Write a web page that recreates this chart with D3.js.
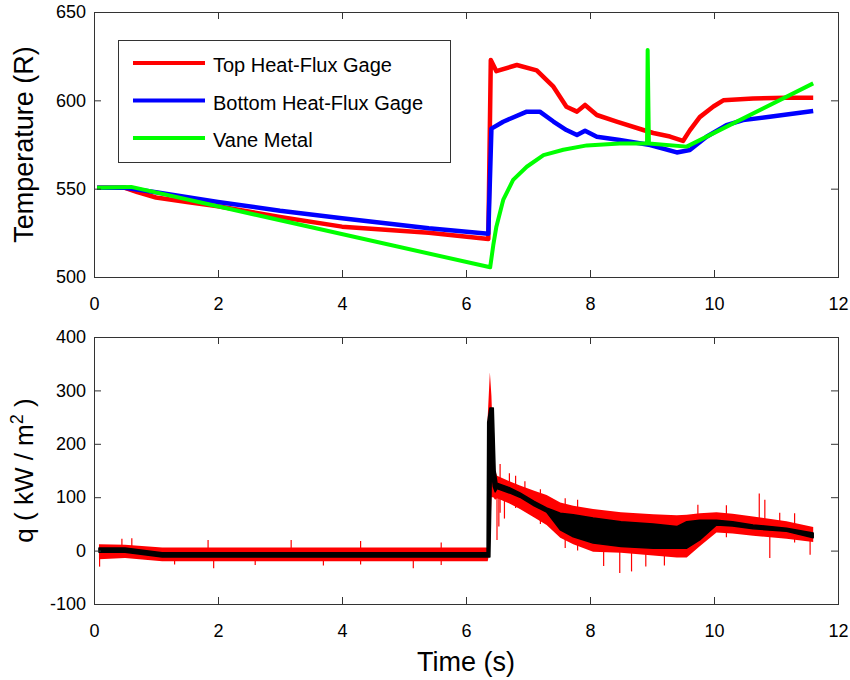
<!DOCTYPE html>
<html>
    <head>
        <meta charset="utf-8">
        <title>Heat flux run</title>
        <script src="https://d3js.org/d3.v7.min.js"></script>
        <style>
            body {
                margin:0;
                background:white;
            }
            svg {
                font-family:'Liberation Sans', Arial, Helvetica, sans-serif;
            }
        </style>
    </head>
    <body>
        <svg width="850" height="680"></svg>
    </body>
    <script>

        // ---- data ----
        let xTicks = [0, 2, 4, 6, 8, 10, 12];
        let tempTicks = [500, 550, 600, 650];
        let fluxTicks = [-100, 0, 100, 200, 300, 400];

        let seriesNames = ['Top Heat-Flux Gage', 'Bottom Heat-Flux Gage', 'Vane Metal'];
        let seriesColors = ['#ff0000', '#0000ff', '#00ff00'];

        // top gage temperature (R)
        let topTime = [0.05, 0.5, 0.7, 1.0, 1.5, 2.0, 3.0, 4.0, 5.4, 6.36, 6.4, 6.49, 6.82, 7.14, 7.41, 7.62, 7.79, 7.92, 8.11, 8.43, 8.86, 9.02, 9.29, 9.5, 9.61, 9.77, 9.99, 10.15, 10.63, 11.17, 11.6];
        let topTemp = [550.5, 550.5, 548, 545, 542.5, 540, 534, 528.5, 525, 521.5, 622.8, 616.5, 620, 617, 607.7, 596.4, 593.6, 597.4, 591.7, 588, 583.2, 581.5, 579.5, 577, 583, 590.5, 596.5, 600, 601, 601.5, 601.5];

        // bottom gage temperature (R)
        let bottomTime = [0.05, 0.5, 1.0, 2.0, 3.0, 4.0, 5.4, 6.36, 6.41, 6.6, 6.98, 7.19, 7.41, 7.62, 7.79, 7.92, 8.11, 8.48, 8.97, 9.4, 9.61, 9.88, 10.2, 10.47, 10.9, 11.6];
        let bottomTemp = [550.5, 550.5, 548, 542.5, 537.5, 533.3, 527.6, 524.5, 584, 587.9, 593.6, 593.6, 588, 583.2, 580.4, 582.8, 579.4, 577.5, 574.7, 570.5, 571.9, 579.4, 586, 588.8, 590.7, 594];

        // vane metal temperature (R)
        let vaneTime = [0.05, 0.6, 6.39, 6.44, 6.49, 6.6, 6.76, 6.98, 7.25, 7.57, 7.95, 8.48, 8.92, 8.93, 8.95, 9.56, 11.6];
        let vaneTemp = [550.5, 551, 505.5, 518, 528.5, 543.6, 555, 562.4, 569, 572, 574.5, 575.5, 575.5, 628.5, 575.5, 573.8, 609.6];

        // heat flux q (kW/m^2): raw signal envelope (red) and averaged band (black)
        let fluxTime  = [0.08, 0.5, 1.1, 2, 3, 4, 5, 6.0, 6.34, 6.35, 6.385, 6.41, 6.44, 6.47, 6.5, 6.7, 6.87, 7.1, 7.3, 7.52, 7.73, 8.05, 8.5, 9.02, 9.4, 9.56, 9.77, 10.04, 10.3, 10.63, 11.17, 11.6];
        let fluxRawHi = [12, 11, 6, 6, 6, 6, 6, 6, 6, 250, 334, 290, 190, 150, 140, 130, 122, 112, 104, 90, 84, 78, 72, 68, 66, 67, 70, 72, 69, 64, 55, 44];
        let fluxRawLo = [-16, -14, -20, -20, -20, -20, -20, -20, -20, -20, 0, 100, 100, 95, 98, 88, 78, 62, 48, 24, 12, -2, -4, -9, -13, -13, 8, 34, 32, 28, 22, 16];
        let fluxAvgHi = [5, 5, -4, -4, -4, -4, -4, -4, -4, 240, 267, 267, 267, 150, 126, 118, 108, 92, 80, 70, 67, 61, 54, 50, 45, 54, 57, 57, 54, 48, 42, 33];
        let fluxAvgLo = [-3, -3, -12, -12, -12, -12, -12, -12, -12, -12, -12, 150, 120, 110, 116, 108, 100, 84, 72, 39, 26, 14, 7.5, 4.5, 4.5, 4.5, 20, 48, 46, 41, 36, 24];

        // single noise spikes of the raw signal
        let spikeTime = [0.09, 0.45, 0.61, 1.3, 1.84, 1.93, 2.6, 3.18, 3.7, 4.3, 5.15, 5.6, 6.5, 6.53, 6.55, 6.62, 6.7, 6.8, 6.95, 7.2, 7.6, 7.8, 8.22, 8.48, 8.67, 8.9, 9.2, 9.74, 10.2, 10.73, 10.82, 10.9, 11.06, 11.3, 11.55];
        let spikeLo   = [-30, 0, 0, -26, 0, -33, -27, 0, -28, -26, -33, -27, 20, 45, 71, 60, 100, 80, 100, 50, 5, 0, -29, -42, -39, -30, -28, 40, 25, 40, 40, -14, 40, 15, -8];
        let spikeHi   = [0, 22, 23, 0, 20, 0, 0, 20, 0, 18, 0, 15, 100, 100, 162, 125, 145, 140, 130, 115, 98, 95, 20, 20, 20, 10, 10, 86, 85, 107, 95, 30, 71, 70, 30];

        // ---- layout ----
        let svg = d3.select('svg');
        let plotLeft = 94, plotRight = 838;
        let topBox = { top: 12, bottom: 277 };
        let lowBox = { top: 337, bottom: 604 };
        let axisColor = '#333';

        let xScaleTop = d3.scaleLinear().domain([0, 12]).range([plotLeft, plotRight]);
        let xScaleLow = d3.scaleLinear().domain([0, 12]).range([plotLeft, plotRight]);
        let yTemp = d3.scaleLinear().domain([500, 650]).range([topBox.bottom, topBox.top]);
        let yFlux = d3.scaleLinear().domain([-100, 400]).range([lowBox.bottom, lowBox.top]);

        // box with inward ticks on all four sides (matlab look)
        function drawFrame(xScale, yScale, yTicks, box) {
            let g = svg.append('g');
            g.append('g')
                .attr('transform', `translate(0,${box.bottom})`)
                .call(d3.axisBottom(xScale).tickValues(xTicks).tickSizeInner(-7).tickSizeOuter(0).tickPadding(20).tickFormat(d => String(d)));
            g.append('g')
                .attr('transform', `translate(0,${box.top})`)
                .call(d3.axisTop(xScale).tickValues(xTicks).tickSizeInner(-7).tickSizeOuter(0).tickFormat(''));
            g.append('g')
                .attr('transform', `translate(${plotLeft},0)`)
                .call(d3.axisLeft(yScale).tickValues(yTicks).tickSizeInner(-7).tickSizeOuter(0).tickPadding(8).tickFormat(d => String(d)));
            g.append('g')
                .attr('transform', `translate(${plotRight},0)`)
                .call(d3.axisRight(yScale).tickValues(yTicks).tickSizeInner(-7).tickSizeOuter(0).tickFormat(''));
            g.selectAll('.domain').remove();
            g.selectAll('line').attr('stroke', axisColor);
            g.selectAll('text')
                .attr('fill', 'black')
                .style('font-size', '18px');
            g.append('rect')
                .attr('x', plotLeft + 0.5)
                .attr('y', box.top + 0.5)
                .attr('width', plotRight - plotLeft)
                .attr('height', box.bottom - box.top)
                .attr('fill', 'none')
                .attr('stroke', axisColor);
            return g;
        }

        // ---- top panel: temperatures ----
        let topG = svg.append('g');
        let tempLine = d3.line()
                        .x(d => xScaleTop(d[0]))
                        .y(d => yTemp(d[1]));

        let tempSeries = [
            d3.zip(topTime, topTemp),
            d3.zip(bottomTime, bottomTemp),
            d3.zip(vaneTime, vaneTemp)
        ];

        topG.selectAll('path')
            .data(tempSeries)
            .join('path')
            .attr('d', tempLine)
            .attr('fill', 'none')
            .attr('stroke', (d,i) => seriesColors[i])
            .attr('stroke-width', (d,i) => i == 2 ? 4 : 4.5)
            .attr('stroke-linejoin', 'round');

        drawFrame(xScaleTop, yTemp, tempTicks, topBox);

        // legend
        let legend = svg.append('g');
        legend.append('rect')
            .attr('x', 118.5).attr('y', 40.5)
            .attr('width', 332).attr('height', 122)
            .attr('fill', 'white')
            .attr('stroke', axisColor);
        legend.selectAll('.key-line')
            .data(seriesNames)
            .join('line')
            .classed('key-line', true)
            .attr('x1', 133).attr('x2', 205)
            .attr('y1', (d,i) => 63 + i*37.5)
            .attr('y2', (d,i) => 63 + i*37.5)
            .attr('stroke', (d,i) => seriesColors[i])
            .attr('stroke-width', 4);
        legend.selectAll('.key-label')
            .data(seriesNames)
            .join('text')
            .classed('key-label', true)
            .attr('x', 213)
            .attr('y', (d,i) => 72 + i*37.5)
            .style('font-size', '20px')
            .text(d => d);

        svg.append('text')
            .attr('transform', `translate(33,${(topBox.top + topBox.bottom)/2}) rotate(-90)`)
            .attr('text-anchor', 'middle')
            .style('font-size', '27px')
            .text('Temperature (R)');

        // ---- bottom panel: heat flux ----
        let lowG = svg.append('g');
        let fluxRows = fluxTime.map((t,i) => ({
            t: t, rawLo: fluxRawLo[i], rawHi: fluxRawHi[i], avgLo: fluxAvgLo[i], avgHi: fluxAvgHi[i]
        }));

        lowG.append('path')
            .datum(fluxRows)
            .attr('d', d3.area()
                        .x(d => xScaleLow(d.t))
                        .y0(d => yFlux(d.rawLo))
                        .y1(d => yFlux(d.rawHi)))
            .attr('fill', '#ff0000');

        lowG.selectAll('.spike')
            .data(spikeTime)
            .join('line')
            .classed('spike', true)
            .attr('x1', d => xScaleLow(d))
            .attr('x2', d => xScaleLow(d))
            .attr('y1', (d,i) => yFlux(spikeLo[i]))
            .attr('y2', (d,i) => yFlux(spikeHi[i]))
            .attr('stroke', '#ff0000')
            .attr('stroke-width', 1.2);

        lowG.append('path')
            .datum(fluxRows)
            .attr('d', d3.area()
                        .x(d => xScaleLow(d.t))
                        .y0(d => yFlux(d.avgLo))
                        .y1(d => yFlux(d.avgHi)))
            .attr('fill', 'black')
            .attr('stroke', 'black')
            .attr('stroke-width', 1.5)
            .attr('stroke-linejoin', 'round');

        drawFrame(xScaleLow, yFlux, fluxTicks, lowBox);

        let qLabel = svg.append('text')
            .attr('transform', `translate(33,${(lowBox.top + lowBox.bottom)/2}) rotate(-90)`)
            .attr('text-anchor', 'middle')
            .style('font-size', '26px');
        qLabel.append('tspan').text('q ( kW / m');
        qLabel.append('tspan').attr('dy', -10).style('font-size', '18px').text('2');
        qLabel.append('tspan').attr('dy', 10).text(' )');

        svg.append('text')
            .attr('x', (plotLeft + plotRight)/2)
            .attr('y', 671)
            .attr('text-anchor', 'middle')
            .style('font-size', '27px')
            .text('Time (s)');

    </script>
</html>
